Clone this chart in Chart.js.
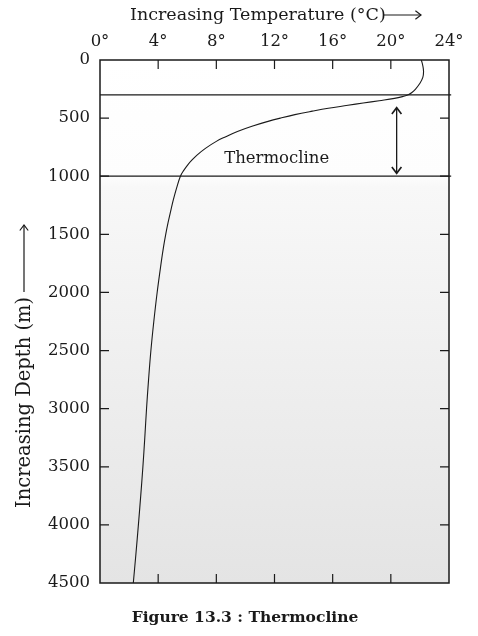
<!DOCTYPE html>
<html lang="en">
<head>
<meta charset="UTF-8">
<title>Figure 13.3 : Thermocline</title>
<script src="https://cdn.jsdelivr.net/npm/chart.js"></script>
<style>
  html, body { margin: 0; padding: 0; background: #fff; }
  #wrap { position: relative; width: 478px; height: 636px; }
  #caption {
    position: absolute; left: 0; width: 490px; top: 607px;
    text-align: center; font: bold 15.5px "DejaVu Serif", serif; color: #1a1a1a;
  }
</style>
</head>
<body>
<div id="wrap">
  <canvas id="chart" width="478" height="636"></canvas>
  <div id="caption">Figure 13.3 : Thermocline</div>
</div>
<script>
// Temperature profile (depth in m, temperature in °C)
const profileDepth = [0, 50, 100, 150, 200, 250, 280, 300, 315, 330, 350, 370, 390, 415, 440, 470, 500, 530, 570, 615, 660, 700, 760, 820, 860, 900, 950, 1000,
  1100, 1200, 1300, 1400, 1500, 1600, 1750, 2000, 2250, 2500, 2750, 3000, 3250, 3500, 3750, 4000, 4250, 4500];
const profileTemp  = [22.1, 22.2, 22.25, 22.2, 22.0, 21.7, 21.45, 21.2, 20.8, 20.25, 19.2, 18.1, 17.05, 15.7, 14.6, 13.4, 12.4, 11.5, 10.45, 9.45, 8.65, 8.0, 7.25, 6.65, 6.33, 6.05, 5.76, 5.53,
  5.27, 5.05, 4.86, 4.68, 4.52, 4.38, 4.2, 3.93, 3.7, 3.5, 3.34, 3.2, 3.08, 2.95, 2.8, 2.64, 2.47, 2.29];

// thermocline boundaries and its double arrow
const layerDepths = [300, 1000];
const arrowTemp = 20.4;
const arrowDepths = [410, 975];
const labelText = 'Thermocline';
const labelTemp = 12.15;
const labelDepth = 852;

const tempTicks = [0, 4, 8, 12, 16, 20, 24];
const depthTicks = [0, 500, 1000, 1500, 2000, 2500, 3000, 3500, 4000, 4500];

const xTitle = 'Increasing Temperature (°C)';
const yTitle = 'Increasing Depth (m)';

const serif = '"DejaVu Serif", serif';
const ink = '#1a1a1a';

const profile = profileDepth.map((d, i) => ({ x: profileTemp[i], y: d }));
const layers = layerDepths.map(d => ({
  data: [{ x: tempTicks[0], y: d }, { x: tempTicks[tempTicks.length - 1] + 0.15, y: d }],
  showLine: true, borderColor: ink, borderWidth: 1.2, pointRadius: 0, clip: false
}));

function arrowHead(ctx, x, y, dir, size) {
  // open chevron head; dir is the angle the arrow points to
  ctx.beginPath();
  ctx.moveTo(x + Math.cos(dir + 2.5) * size, y + Math.sin(dir + 2.5) * size);
  ctx.lineTo(x, y);
  ctx.lineTo(x + Math.cos(dir - 2.5) * size, y + Math.sin(dir - 2.5) * size);
  ctx.stroke();
}

const decor = {
  id: 'decor',
  beforeDatasetsDraw(chart) {
    const { ctx, chartArea: a } = chart;
    const ys = chart.scales.y;
    const g = ctx.createLinearGradient(0, a.top, 0, a.bottom);
    const mid = (ys.getPixelForValue(1000) - a.top) / (a.bottom - a.top);
    g.addColorStop(0, '#ffffff');
    g.addColorStop(mid, '#fdfdfd');
    g.addColorStop(mid + 0.02, '#f8f8f8');
    g.addColorStop(1, '#e4e4e4');
    ctx.save();
    ctx.fillStyle = g;
    ctx.fillRect(a.left, a.top, a.right - a.left, a.bottom - a.top);
    ctx.restore();
  },
  afterDatasetsDraw(chart) {
    const { ctx, chartArea: a } = chart;
    const xs = chart.scales.x, ys = chart.scales.y;
    ctx.save();
    ctx.strokeStyle = ink;
    ctx.fillStyle = ink;

    // frame
    ctx.lineWidth = 1.5;
    ctx.strokeRect(a.left, a.top, a.right - a.left, a.bottom - a.top);

    // inward tick marks
    ctx.lineWidth = 1.2;
    const tl = 9;
    tempTicks.slice(1, -1).forEach(t => {
      const x = xs.getPixelForValue(t);
      ctx.beginPath();
      ctx.moveTo(x, a.top); ctx.lineTo(x, a.top + tl);
      ctx.moveTo(x, a.bottom); ctx.lineTo(x, a.bottom - tl);
      ctx.stroke();
    });
    depthTicks.slice(1, -1).forEach(d => {
      const y = ys.getPixelForValue(d);
      ctx.beginPath();
      ctx.moveTo(a.left, y); ctx.lineTo(a.left + tl, y);
      ctx.moveTo(a.right, y); ctx.lineTo(a.right - tl, y);
      ctx.stroke();
    });

    // thermocline double arrow
    const ax = xs.getPixelForValue(arrowTemp);
    const ay0 = ys.getPixelForValue(arrowDepths[0]);
    const ay1 = ys.getPixelForValue(arrowDepths[1]);
    ctx.lineWidth = 1.3;
    ctx.beginPath(); ctx.moveTo(ax, ay0); ctx.lineTo(ax, ay1); ctx.stroke();
    ctx.lineWidth = 1.6;
    arrowHead(ctx, ax, ay0, -Math.PI / 2, 8);
    arrowHead(ctx, ax, ay1, Math.PI / 2, 8);

    // label
    ctx.font = '16.5px ' + serif;
    ctx.textAlign = 'center';
    ctx.textBaseline = 'middle';
    ctx.fillText(labelText, xs.getPixelForValue(labelTemp), ys.getPixelForValue(labelDepth));

    // x title with arrow
    ctx.font = '17.5px ' + serif;
    ctx.textAlign = 'left';
    ctx.fillText(xTitle, 130, 15);
    const tw = ctx.measureText(xTitle).width;
    ctx.lineWidth = 1.2;
    ctx.beginPath(); ctx.moveTo(130 + tw - 2, 15); ctx.lineTo(421, 15); ctx.stroke();
    arrowHead(ctx, 421, 15, 0, 7);

    // y title with arrow, rotated
    ctx.translate(25, 508);
    ctx.rotate(-Math.PI / 2);
    ctx.font = '19.5px ' + serif;
    ctx.fillText(yTitle, 0, 0);
    const yw = ctx.measureText(yTitle).width;
    ctx.beginPath(); ctx.moveTo(yw + 5, -1); ctx.lineTo(yw + 72, -1); ctx.stroke();
    arrowHead(ctx, yw + 72, -1, 0, 7);
    ctx.restore();
  }
};

new Chart(document.getElementById('chart'), {
  type: 'scatter',
  data: {
    datasets: [
      {
        data: profile, showLine: true, borderColor: ink, borderWidth: 1.1,
        pointRadius: 0, tension: 0.4
      },
      ...layers
    ]
  },
  options: {
    responsive: false,
    animation: false,
    events: [],
    layout: { padding: { left: 0, top: 0, right: 29, bottom: 53 } },
    plugins: { legend: { display: false }, tooltip: { enabled: false } },
    scales: {
      x: {
        type: 'linear', position: 'top', min: 0, max: 24,
        afterBuildTicks: s => { s.ticks = tempTicks.map(v => ({ value: v })); },
        afterFit: s => { s.height = 60; },
        grid: { display: false, drawTicks: false },
        border: { display: false },
        ticks: {
          padding: 8, color: ink, maxRotation: 0,
          font: { family: serif, size: 16.5 },
          callback: v => v + '°'
        }
      },
      y: {
        type: 'linear', position: 'left', reverse: true, min: 0, max: 4500,
        afterBuildTicks: s => { s.ticks = depthTicks.map(v => ({ value: v })); },
        afterFit: s => { s.width = 100; },
        grid: { display: false, drawTicks: false },
        border: { display: false },
        ticks: {
          padding: 10, color: ink,
          font: { family: serif, size: 16.5 },
          callback: v => String(v)
        }
      }
    }
  },
  plugins: [decor]
});
</script>
</body>
</html>
